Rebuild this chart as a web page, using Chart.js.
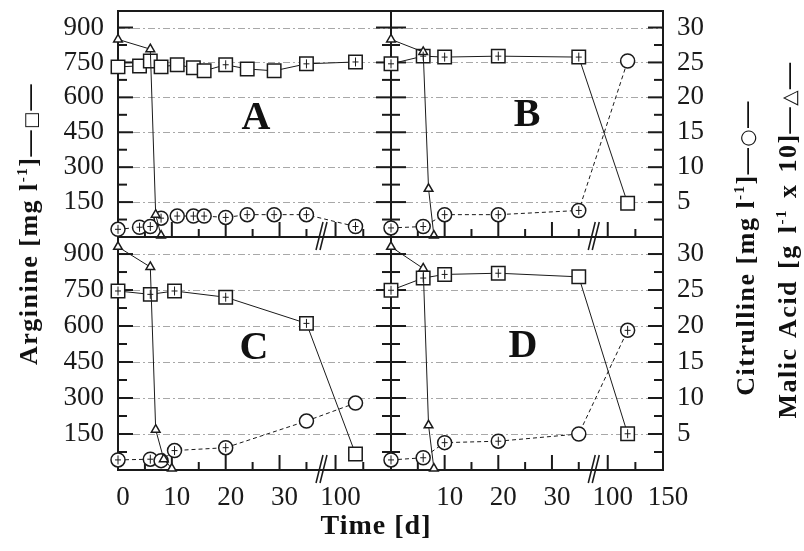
<!DOCTYPE html>
<html>
<head>
<meta charset="utf-8">
<script src="https://cdn.jsdelivr.net/npm/chart.js@4.4.1/dist/chart.umd.min.js"></script>
<style>
  body { margin: 0; background: #fff; }
  #wrap { position: relative; width: 804px; height: 551px; overflow: hidden; font-family: "Liberation Serif", "DejaVu Serif", serif; color: #111; }
  canvas { position: absolute; left: 0; top: 0; }
  .lbl { position: absolute; font-weight: bold; white-space: nowrap; transform: translate(-50%, -50%); }
  .rot { transform: translate(-50%, -50%) rotate(-90deg); }
  .letter { font-size: 40px; }
  .title { font-size: 26px; letter-spacing: 1.5px; }
  .sym { font-family: "DejaVu Sans", sans-serif; font-weight: normal; font-size: 20px; }
  sup { font-size: 15px; vertical-align: 10px; line-height: 0; }
</style>
</head>
<body>
<div id="wrap">
  <canvas id="cA" width="804" height="551"></canvas>
  <canvas id="cB" width="804" height="551"></canvas>
  <canvas id="cC" width="804" height="551"></canvas>
  <canvas id="cD" width="804" height="551"></canvas>

  <div class="lbl letter" style="left:256px;top:115px">A</div>
  <div class="lbl letter" style="left:527px;top:112px">B</div>
  <div class="lbl letter" style="left:254px;top:345px">C</div>
  <div class="lbl letter" style="left:523px;top:343px">D</div>

  <div class="lbl title rot" style="left:29px;top:224px">Arginine [mg l<sup>-1</sup>]—<span class="sym" style="font-size:18px">□</span>—</div>
  <div class="lbl title rot" style="left:746px;top:248px">Citrulline [mg l<sup>-1</sup>]—<span class="sym">○</span>—</div>
  <div class="lbl title rot" style="left:788px;top:240px;word-spacing:3px">Malic Acid [g l<sup>-1</sup> x 10]—<span class="sym">△</span>—</div>
  <div class="lbl title" style="left:376px;top:525px;font-size:28px;letter-spacing:1px">Time [d]</div>
</div>

<script>
// axis ticks
const yLeftTicks = [150, 300, 450, 600, 750, 900];
const yLeftMinor = [75, 225, 375, 525, 675, 825];
const yRightTicks = [5, 10, 15, 20, 25, 30];
const xMajorDays = [10, 20, 30, 100];
const xMinorDays = [5, 15, 25, 35, 125];
const xLabelsLeft = [0, 10, 20, 30, 100];
const xLabelsRight = [10, 20, 30, 100, 150];

// Panel A
const daysA = [0, 4, 6, 8, 11, 14, 16, 20, 24, 29, 35, 118];
const argA = [731, 735, 756, 731, 740, 727, 714, 740, 722, 714, 744, 752];
const citA = [1.1, 1.4, 1.5, 2.7, 3.0, 3.0, 3.0, 2.8, 3.2, 3.2, 3.2, 1.5];
const malDaysA = [0, 6, 7, 8];
const malA = [28.3, 26.9, 3.2, 0.2];
const argBarsA = [0, 0, 0, 0, 0, 0, 0, 1, 0, 0, 1, 1];
const citBarsA = [1, 1, 1, 1, 1, 1, 1, 1, 1, 1, 1, 1];

// Panel B
const daysB = [0, 6, 10, 20, 35, 118];
const argB = [744, 777, 773, 777, 773, 145];
const citB = [1.3, 1.5, 3.2, 3.2, 3.8, 25.2];
const malDaysB = [0, 6, 7, 8];
const malB = [28.3, 26.5, 6.9, 0.2];
const argBarsB = [1, 1, 1, 1, 1, 0];
const citBarsB = [1, 1, 1, 1, 1, 0];

// Panel C
const daysC = [0, 6, 10.5, 20, 35, 118];
const argC = [746, 732, 746, 720, 611, 67];
const citDaysC = [0, 6, 8, 10.5, 20, 35, 118];
const citC = [1.4, 1.5, 1.3, 2.7, 3.1, 6.8, 9.3];
const malDaysC = [0, 6, 7, 8.5, 10];
const malC = [31.0, 28.2, 5.6, 1.5, 0.2];
const argBarsC = [1, 1, 1, 1, 1, 0];
const citBarsC = [1, 1, 0, 1, 1, 0, 0];

// Panel D
const daysD = [0, 6, 10, 20, 35, 118];
const argD = [749, 800, 815, 820, 805, 151];
const citD = [1.4, 1.7, 3.8, 4.0, 5.0, 19.4];
const malDaysD = [0, 6, 7, 8];
const malD = [31.0, 28.0, 6.2, 0.2];
const argBarsD = [1, 1, 1, 1, 0, 1];
const citBarsD = [1, 1, 1, 1, 0, 1];

// broken time axis: 0-35 d linear, then 100-150 d compressed
function axisUnit(d) {
  return d <= 40 ? d : 40.4 + (d - 100) * 0.206;
}
const breakUnit = 37.7;

const panels = [
  { id: "cA", left: 118, right: 391, top: 6, bottom: 237, days: daysA, arg: argA, citDays: daysA, cit: citA, malDays: malDaysA, mal: malA, argBars: argBarsA, citBars: citBarsA, xLabels: [], yLabels: true },
  { id: "cB", left: 391, right: 663, top: 6, bottom: 237, days: daysB, arg: argB, citDays: daysB, cit: citB, malDays: malDaysB, mal: malB, argBars: argBarsB, citBars: citBarsB, xLabels: [], yLabels: false },
  { id: "cC", left: 118, right: 391, top: 237, bottom: 470, days: daysC, arg: argC, citDays: citDaysC, cit: citC, malDays: malDaysC, mal: malC, argBars: argBarsC, citBars: citBarsC, xLabels: xLabelsLeft, yLabels: true },
  { id: "cD", left: 391, right: 663, top: 237, bottom: 470, days: daysD, arg: argD, citDays: daysD, cit: citD, malDays: malDaysD, mal: malD, argBars: argBarsD, citBars: citBarsD, xLabels: xLabelsRight, yLabels: false }
];

const tickFont = { family: "Liberation Serif", size: 27 };
const ink = "#1a1a1a";

function pts(days, vals) {
  return days.map((d, i) => ({ x: axisUnit(d), y: vals[i] }));
}

function line(ctx, x1, y1, x2, y2) {
  ctx.beginPath();
  ctx.moveTo(x1, y1);
  ctx.lineTo(x2, y2);
  ctx.stroke();
}

function framePlugin(p) {
  return {
    id: "frame" + p.id,
    beforeDatasetsDraw(chart) {
      const { ctx, chartArea: a, scales: { x, y } } = chart;
      ctx.save();
      // dashed grid
      ctx.strokeStyle = "#a8a8a8";
      ctx.lineWidth = 1;
      ctx.setLineDash([7, 3, 2, 3]);
      yLeftTicks.forEach(v => {
        const py = Math.round(y.getPixelForValue(v)) + 0.5;
        line(ctx, a.left, py, a.right, py);
      });
      ctx.setLineDash([]);

      // frame
      ctx.strokeStyle = ink;
      ctx.lineWidth = 2;
      ctx.strokeRect(a.left, a.top, a.right - a.left, a.bottom - a.top);

      // y ticks, inward on both sides
      yLeftTicks.forEach(v => {
        const py = y.getPixelForValue(v);
        line(ctx, a.left, py, a.left + 15, py);
        line(ctx, a.right, py, a.right - 15, py);
      });
      yLeftMinor.forEach(v => {
        const py = y.getPixelForValue(v);
        line(ctx, a.left, py, a.left + 9, py);
        line(ctx, a.right, py, a.right - 9, py);
      });
      // x ticks, inward
      xMajorDays.forEach(d => {
        const px = x.getPixelForValue(axisUnit(d));
        line(ctx, px, a.bottom, px, a.bottom - 15);
      });
      xMinorDays.forEach(d => {
        const px = x.getPixelForValue(axisUnit(d));
        line(ctx, px, a.bottom, px, a.bottom - 8);
      });

      // axis break
      const bx = x.getPixelForValue(breakUnit);
      ctx.lineWidth = 1.5;
      line(ctx, bx - 5, a.bottom + 13, bx + 2, a.bottom - 15);
      line(ctx, bx - 1, a.bottom + 13, bx + 6, a.bottom - 15);
      ctx.restore();
    },
    afterDatasetsDraw(chart) {
      const ctx = chart.ctx;
      ctx.save();
      ctx.strokeStyle = ink;
      ctx.lineWidth = 1;
      const marks = [[1, p.argBars], [2, p.citBars]];
      marks.forEach(([idx, flags]) => {
        chart.getDatasetMeta(idx).data.forEach((pt, i) => {
          if (!flags[i]) return;
          line(ctx, pt.x, pt.y - 4.5, pt.x, pt.y + 4.5);
          line(ctx, pt.x - 3, pt.y, pt.x + 3, pt.y);
        });
      });
      ctx.restore();
    }
  };
}

function makeChart(p) {
  const yW = 60, y2W = 60, xH = 45;
  new Chart(document.getElementById(p.id), {
    type: "line",
    data: {
      datasets: [
        {
          label: "Malic Acid", data: pts(p.malDays, p.mal), yAxisID: "y2",
          pointStyle: "triangle", pointRadius: 5, borderColor: ink, backgroundColor: "#fff",
          borderWidth: 1, pointBorderWidth: 1.5, tension: 0, clip: false
        },
        {
          label: "Arginine", data: pts(p.days, p.arg), yAxisID: "y",
          pointStyle: "rect", pointRadius: 9.5, borderColor: ink, backgroundColor: "#fff",
          borderWidth: 1, pointBorderWidth: 1.5, tension: 0, clip: false
        },
        {
          label: "Citrulline", data: pts(p.citDays, p.cit), yAxisID: "y2",
          pointStyle: "circle", pointRadius: 7, borderColor: ink, backgroundColor: "#fff",
          borderWidth: 1, borderDash: [4, 3], pointBorderWidth: 1.5, tension: 0, clip: false
        }
      ]
    },
    options: {
      responsive: false,
      animation: false,
      events: [],
      layout: {
        padding: { left: p.left - yW, right: 804 - p.right - y2W, top: p.top, bottom: 551 - p.bottom - xH }
      },
      plugins: { legend: { display: false }, tooltip: { enabled: false } },
      scales: {
        x: {
          type: "linear", min: 0, max: 50.7,
          grid: { display: false, drawTicks: false }, border: { display: false },
          afterBuildTicks: s => { s.ticks = p.xLabels.map(d => ({ value: axisUnit(d) })); },
          afterFit: s => { s.height = xH; s.paddingLeft = 0; s.paddingRight = 0; },
          ticks: {
            display: p.xLabels.length > 0, font: tickFont, color: ink, padding: 12,
            labelOffset: 5, maxRotation: 0, autoSkip: false,
            callback: (v, i) => p.xLabels[i]
          }
        },
        y: {
          position: "left", min: 0, max: 971,
          grid: { display: false, drawTicks: false }, border: { display: false },
          afterBuildTicks: s => { s.ticks = yLeftTicks.map(v => ({ value: v })); },
          afterFit: s => { s.width = yW; s.paddingTop = 0; s.paddingBottom = 0; },
          ticks: { display: p.yLabels, font: tickFont, color: ink, padding: 14 }
        },
        y2: {
          position: "right", min: 0, max: 971 / 30,
          grid: { display: false, drawTicks: false }, border: { display: false },
          afterBuildTicks: s => { s.ticks = yRightTicks.map(v => ({ value: v })); },
          afterFit: s => { s.width = y2W; s.paddingTop = 0; s.paddingBottom = 0; },
          ticks: { display: !p.yLabels, font: tickFont, color: ink, padding: 14 }
        }
      }
    },
    plugins: [framePlugin(p)]
  });
}

panels.forEach(makeChart);
</script>
</body>
</html>
